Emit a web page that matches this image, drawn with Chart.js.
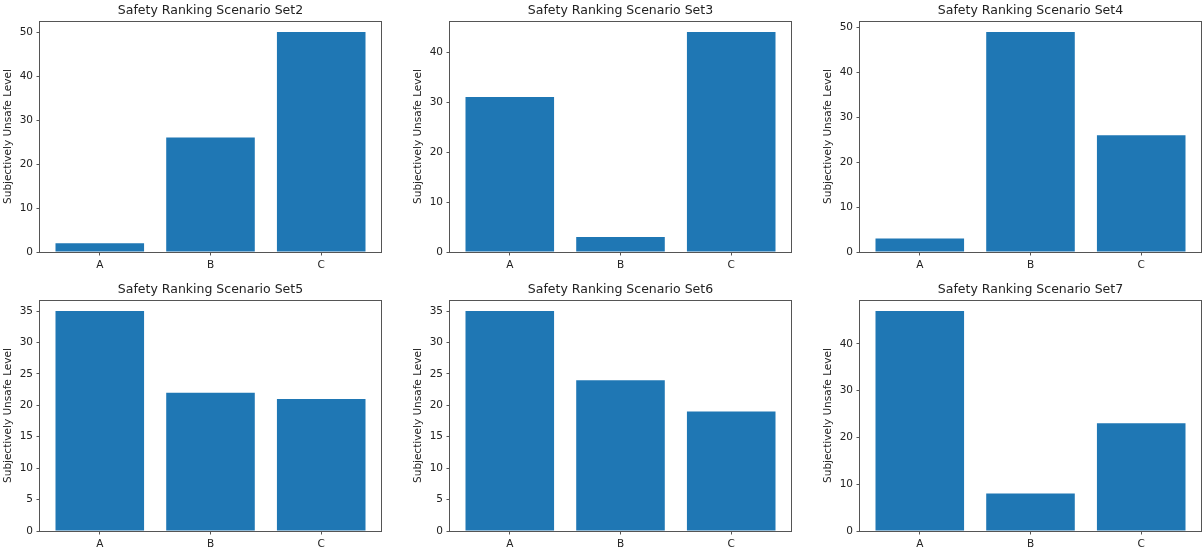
<!DOCTYPE html>
<html>
<head>
<meta charset="utf-8">
<script src="https://cdn.jsdelivr.net/npm/chart.js@4/dist/chart.umd.min.js"></script>
<style>
  html, body { margin: 0; padding: 0; background: #fff; width: 1202px; height: 550px; overflow: hidden; }
  canvas { position: absolute; }
</style>
</head>
<body>
<script>
// Scenario categories and per-set unsafe levels
const categories = ['A', 'B', 'C'];
const set2 = [2, 26, 50];
const set3 = [31, 3, 44];
const set4 = [3, 49, 26];
const set5 = [35, 22, 21];
const set6 = [35, 24, 19];
const set7 = [47, 8, 23];

// Y tick labels for each panel
const ticksTo50 = [0, 10, 20, 30, 40, 50];
const ticksTo40 = [0, 10, 20, 30, 40];
const ticksTo35 = [0, 5, 10, 15, 20, 25, 30, 35];

const panelTitles = [
  'Safety Ranking Scenario Set2', 'Safety Ranking Scenario Set3', 'Safety Ranking Scenario Set4',
  'Safety Ranking Scenario Set5', 'Safety Ranking Scenario Set6', 'Safety Ranking Scenario Set7'
];
const yAxisTitle = 'Subjectively Unsafe Level';

const panels = [
  { title: panelTitles[0], values: set2, yTicks: ticksTo50, col: 0, row: 0 },
  { title: panelTitles[1], values: set3, yTicks: ticksTo40, col: 1, row: 0 },
  { title: panelTitles[2], values: set4, yTicks: ticksTo50, col: 2, row: 0 },
  { title: panelTitles[3], values: set5, yTicks: ticksTo35, col: 0, row: 1 },
  { title: panelTitles[4], values: set6, yTicks: ticksTo35, col: 1, row: 1 },
  { title: panelTitles[5], values: set7, yTicks: ticksTo40, col: 2, row: 1 }
];

// Grid geometry (plot-area origin of each cell)
const areaLefts = [40, 450, 860];
const areaTops = [21, 300];
const areaW = 341, areaH = 231;
const yAxisW = 40, titleH = 21, xAxisH = 23, padRight = 8;

const FONT = 'DejaVu Sans';
const TEXT = '#222';
const SPINE = '#555';
const BAR = '#1f77b4';

// Box frame drawn on all four sides of the plot area
const framePlugin = {
  id: 'frame',
  afterDatasetsDraw(chart) {
    const { ctx, chartArea: a } = chart;
    ctx.save();
    ctx.strokeStyle = SPINE;
    ctx.lineWidth = 1;
    ctx.strokeRect(a.left - 0.5, a.top + 0.5, a.right - a.left + 1, a.bottom - a.top);
    ctx.restore();
  }
};

panels.forEach(p => {
  const canvas = document.createElement('canvas');
  const w = yAxisW + areaW + padRight;
  const h = titleH + areaH + xAxisH;
  canvas.width = w; canvas.height = h;
  canvas.style.width = w + 'px'; canvas.style.height = h + 'px';
  canvas.style.left = (areaLefts[p.col] - yAxisW) + 'px';
  canvas.style.top = (areaTops[p.row] - titleH) + 'px';
  document.body.appendChild(canvas);

  const points = p.values.map((v, i) => ({ x: i, y: v }));
  const yMax = Math.max(...p.values) * 1.05;

  new Chart(canvas, {
    type: 'bar',
    data: {
      datasets: [{
        data: points,
        backgroundColor: BAR,
        borderWidth: 0,
        barPercentage: 0.8,
        categoryPercentage: 1.0
      }]
    },
    options: {
      responsive: false,
      animation: false,
      layout: { padding: { left: 0, right: padRight, top: 0, bottom: 0 } },
      plugins: {
        legend: { display: false },
        tooltip: { enabled: false },
        title: {
          display: true,
          text: p.title,
          fullSize: false,
          color: TEXT,
          font: { family: FONT, size: 12.5, weight: 'normal', lineHeight: 1 },
          padding: { top: 4.5, bottom: 4 }
        }
      },
      scales: {
        x: {
          type: 'linear',
          min: -0.54,
          max: 2.54,
          offset: false,
          afterFit: s => { s.height = xAxisH; },
          afterBuildTicks: s => { s.ticks = categories.map((c, i) => ({ value: i })); },
          border: { display: false },
          grid: { display: true, offset: false, drawOnChartArea: false, drawTicks: true, tickLength: 3.5, tickWidth: 1, tickColor: SPINE },
          ticks: {
            autoSkip: false, maxRotation: 0, padding: 3.5, color: TEXT,
            font: { family: FONT, size: 10.5 },
            callback: v => categories[v]
          }
        },
        y: {
          type: 'linear',
          min: 0,
          max: yMax,
          afterFit: s => { s.width = yAxisW; },
          afterBuildTicks: s => { s.ticks = p.yTicks.map(v => ({ value: v })); },
          border: { display: false },
          grid: { display: true, offset: false, drawOnChartArea: false, drawTicks: true, tickLength: 3.5, tickWidth: 1, tickColor: SPINE },
          ticks: {
            autoSkip: false, padding: 3.5, color: TEXT,
            font: { family: FONT, size: 10.5 },
            callback: v => String(v)
          },
          title: {
            display: true,
            text: yAxisTitle,
            color: TEXT,
            font: { family: FONT, size: 10.5, lineHeight: 1.2 },
            padding: { top: 1.7, bottom: 0 }
          }
        }
      }
    },
    plugins: [framePlugin]
  });
});
</script>
</body>
</html>
